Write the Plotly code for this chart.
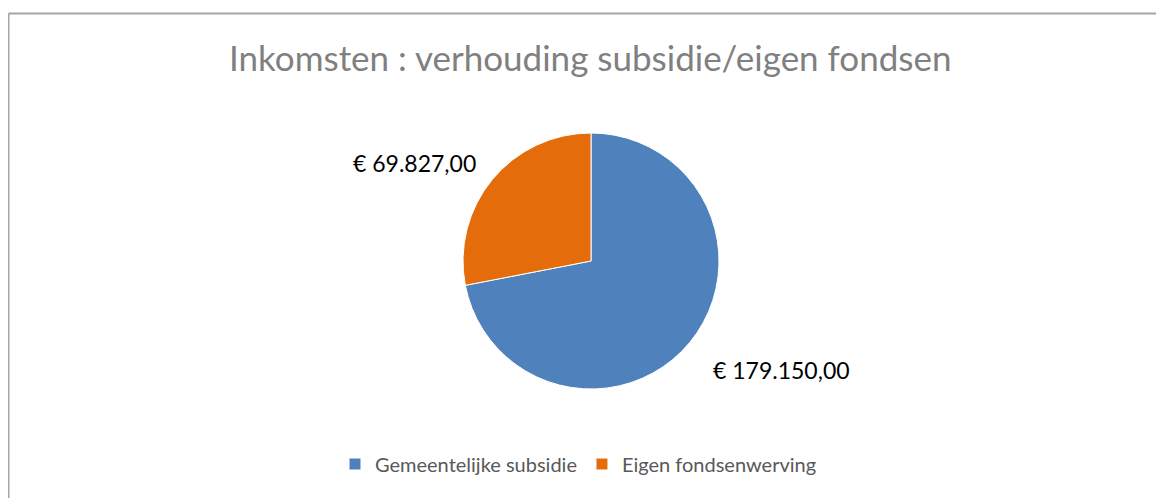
import plotly.graph_objects as go

W, H = 1164, 498
OFF = 8  # page body margin offset in the screenshot

categories = ["Gemeentelijke subsidie", "Eigen fondsenwerving"]
values = [179150.00, 69827.00]
colors = ["#4F81BD", "#E46C0A"]
title_text = "Inkomsten : verhouding subsidie/eigen fondsen"


def euro(v):
    s = f"{v:,.2f}"
    s = s.replace(",", "X").replace(".", ",").replace("X", ".")
    return "€ " + s


def px(x):
    return (x - OFF) / W


def py(y):
    return 1 - (y - OFF) / H


fig = go.Figure()
fig.add_trace(go.Pie(
    labels=categories,
    values=values,
    marker=dict(colors=colors, line=dict(color="white", width=1)),
    sort=False,
    direction="clockwise",
    rotation=0,
    textinfo="none",
    hoverinfo="label+value",
    domain=dict(x=[px(463), px(719)], y=[py(389), py(133)]),
))

label_pos = [(781, 370), (414, 163)]
for v, (lx, ly) in zip(values, label_pos):
    fig.add_annotation(
        x=px(lx), y=py(ly), xref="paper", yref="paper",
        text=euro(v), showarrow=False, xanchor="center", yanchor="middle",
        font=dict(family="Lato, Carlito, Calibri, sans-serif", size=23, color="#000000"),
    )

fig.add_annotation(
    x=px(590), y=py(57), xref="paper", yref="paper",
    text=title_text, showarrow=False, xanchor="center", yanchor="middle",
    font=dict(family="Lato, Carlito, Calibri, sans-serif", size=35, color="#808080"),
)

fig.add_shape(type="line", xref="paper", yref="paper",
              x0=px(8.5), x1=1.02, y0=py(13.5), y1=py(13.5),
              line=dict(color="#A6A6A6", width=2))
fig.add_shape(type="line", xref="paper", yref="paper",
              x0=px(8.5), x1=px(8.5), y0=py(13.5), y1=-0.02,
              line=dict(color="#A6A6A6", width=2))

fig.update_layout(
    width=W, height=H,
    margin=dict(l=0, r=0, t=0, b=0),
    paper_bgcolor="white",
    plot_bgcolor="white",
    showlegend=True,
    legend=dict(
        orientation="h", x=px(578.5), xanchor="center", y=py(464), yanchor="middle",
        font=dict(family="Lato, Carlito, Calibri, sans-serif", size=20, color="#595959"),
        traceorder="normal", itemwidth=30,
    ),
)

fig.write_html("out.html")
